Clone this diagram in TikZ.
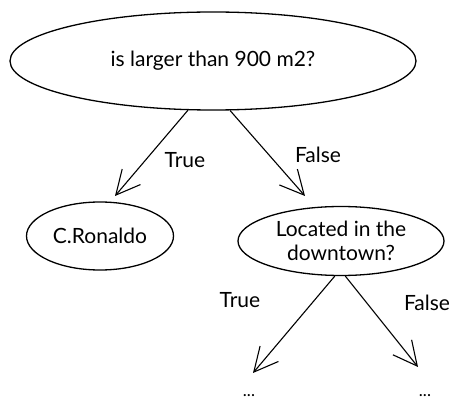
\documentclass[tikz,border=0pt]{standalone}
\usepackage{fontspec}
\setmainfont{Lato}
\usetikzlibrary{shapes.geometric,arrows.meta}
\begin{document}
\begin{tikzpicture}[x=1pt,y=-1pt,
  bub/.style={ellipse,draw,line width=1.3pt,inner sep=0pt,align=center,font=\fontsize{21}{24}\selectfont},
  lab/.style={font=\fontsize{21}{24}\selectfont,inner sep=0pt},
  dots/.style={font=\fontsize{17}{20}\selectfont,inner sep=0pt},
  conn/.style={line width=1.1pt,-{Straight Barb[length=24pt,width=24pt,line width=1.1pt]}}]
\useasboundingbox (0,0) rectangle (464,417);
\node[bub,minimum width=406pt,minimum height=98pt] (root) at (213,61) {is larger than 900 m2?};
\node[bub,minimum width=147pt,minimum height=68pt] (ron) at (100,236) {C.Ronaldo};
\node[bub,minimum width=206pt,minimum height=69pt] (loc) at (341,241) {Located in the\\downtown?};
\node[dots] (dotsa) at (249,396) {...};
\node[dots] (dotsb) at (425,396) {...};
\node[lab] (ltrue1) at (185,160) {True};
\node[lab] (lfalse1) at (318,155) {False};
\node[lab] (ltrue2) at (240,300) {True};
\node[lab] (lfalse2) at (427,303) {False};
\coordinate (tipa) at (115,196);
\coordinate (tipb) at (305,196);
\coordinate (tipc) at (253,373);
\coordinate (tipd) at (418,367);
\draw[conn] (root.243) -- (tipa);
\draw[conn] (root.289) -- (tipb);
\draw[conn] (loc.260) -- (tipc);
\draw[conn] (loc.277) -- (tipd);
\end{tikzpicture}
\end{document}
